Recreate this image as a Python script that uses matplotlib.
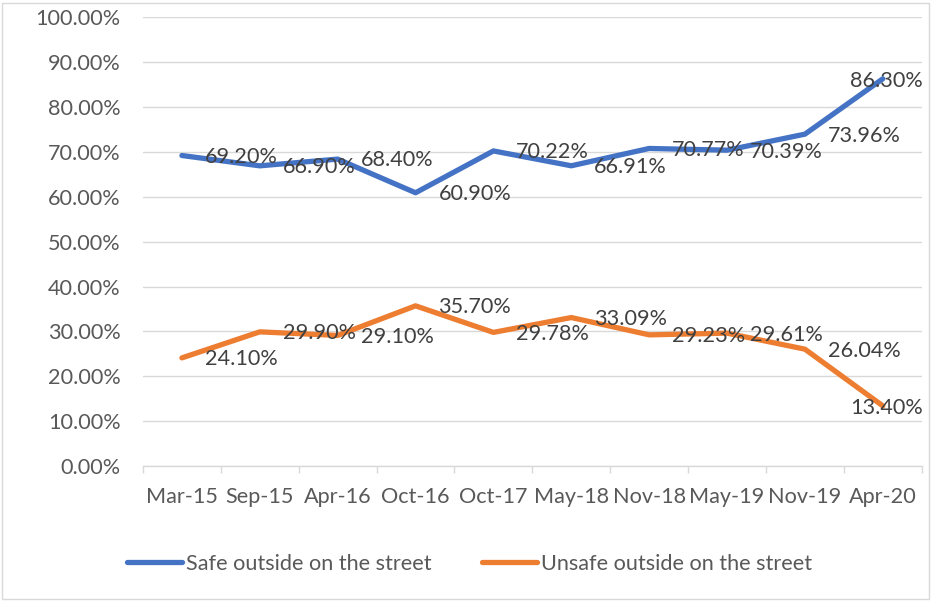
import matplotlib
matplotlib.use('Agg')
import matplotlib.pyplot as plt
from matplotlib.patches import Rectangle
from matplotlib.transforms import blended_transform_factory

plt.rcParams['font.family'] = ['Lato', 'DejaVu Sans']

# --- data ---
periods = ['Mar-15', 'Sep-15', 'Apr-16', 'Oct-16', 'Oct-17',
           'May-18', 'Nov-18', 'May-19', 'Nov-19', 'Apr-20']
safe = [69.20, 66.90, 68.40, 60.90, 70.22, 66.91, 70.77, 70.39, 73.96, 86.30]
unsafe = [24.10, 29.90, 29.10, 35.70, 29.78, 33.09, 29.23, 29.61, 26.04, 13.40]
y_ticks = [0, 10, 20, 30, 40, 50, 60, 70, 80, 90, 100]

blue = '#4472C4'
orange = '#ED7D31'
grid_col = '#D9D9D9'
tick_col = '#595959'
label_col = '#404040'
fs = 15.6

fig = plt.figure(figsize=(9.32, 6.01), dpi=100)
ax = fig.add_axes([0.1534, 0.2246, 0.8356, 0.7466])

x = list(range(len(periods)))
ax.plot(x, safe, color=blue, linewidth=3.8, solid_capstyle='round',
        solid_joinstyle='round', label='Safe outside on the street')
ax.plot(x, unsafe, color=orange, linewidth=3.8, solid_capstyle='round',
        solid_joinstyle='round', label='Unsafe outside on the street')

ax.set_xlim(-0.5, len(periods) - 0.5)
ax.set_ylim(0, 100)
ax.set_yticks(y_ticks)
ax.set_yticklabels([f'{v:.2f}%' for v in y_ticks])
ax.set_xticks(x)
ax.set_xticklabels(periods)
ax.set_xticks([i - 0.5 for i in range(len(periods) + 1)], minor=True)

ax.tick_params(axis='y', length=0, pad=16, labelsize=fs, labelcolor=tick_col)
ax.tick_params(axis='x', which='major', length=0, pad=15, labelsize=fs, labelcolor=tick_col)
ax.tick_params(axis='x', which='minor', length=5, width=1, color=grid_col)

ax.grid(axis='y', color=grid_col, linewidth=1)
ax.set_axisbelow(True)
for side in ['top', 'right', 'left']:
    ax.spines[side].set_visible(False)
ax.spines['bottom'].set_color(grid_col)
ax.spines['bottom'].set_linewidth(1)

# data labels to the right of each point, last one kept inside the chart
edge = blended_transform_factory(fig.transFigure, ax.transData)
for series in (safe, unsafe):
    for i, v in enumerate(series):
        txt = f'{v:.2f}%'
        if i == len(series) - 1:
            ax.text(923 / 932, v - 0.5, txt, transform=edge, ha='right', va='center',
                    fontsize=fs, color=label_col)
        else:
            ax.annotate(txt, (i, v), xytext=(16.5, -1), textcoords='offset points',
                        ha='left', va='center', fontsize=fs, color=label_col)

fig.legend(loc='center', bbox_to_anchor=(0.504, 0.0616), ncol=2, frameon=False,
           fontsize=fs, labelcolor=tick_col, handlelength=2.55, handletextpad=0.2,
           columnspacing=2.3)

fig.patches.append(Rectangle((2 / 932, 2 / 601), 927 / 932, 596 / 601,
                             transform=fig.transFigure, fill=False,
                             edgecolor=grid_col, linewidth=1))

fig.savefig('out.png', dpi=100)
